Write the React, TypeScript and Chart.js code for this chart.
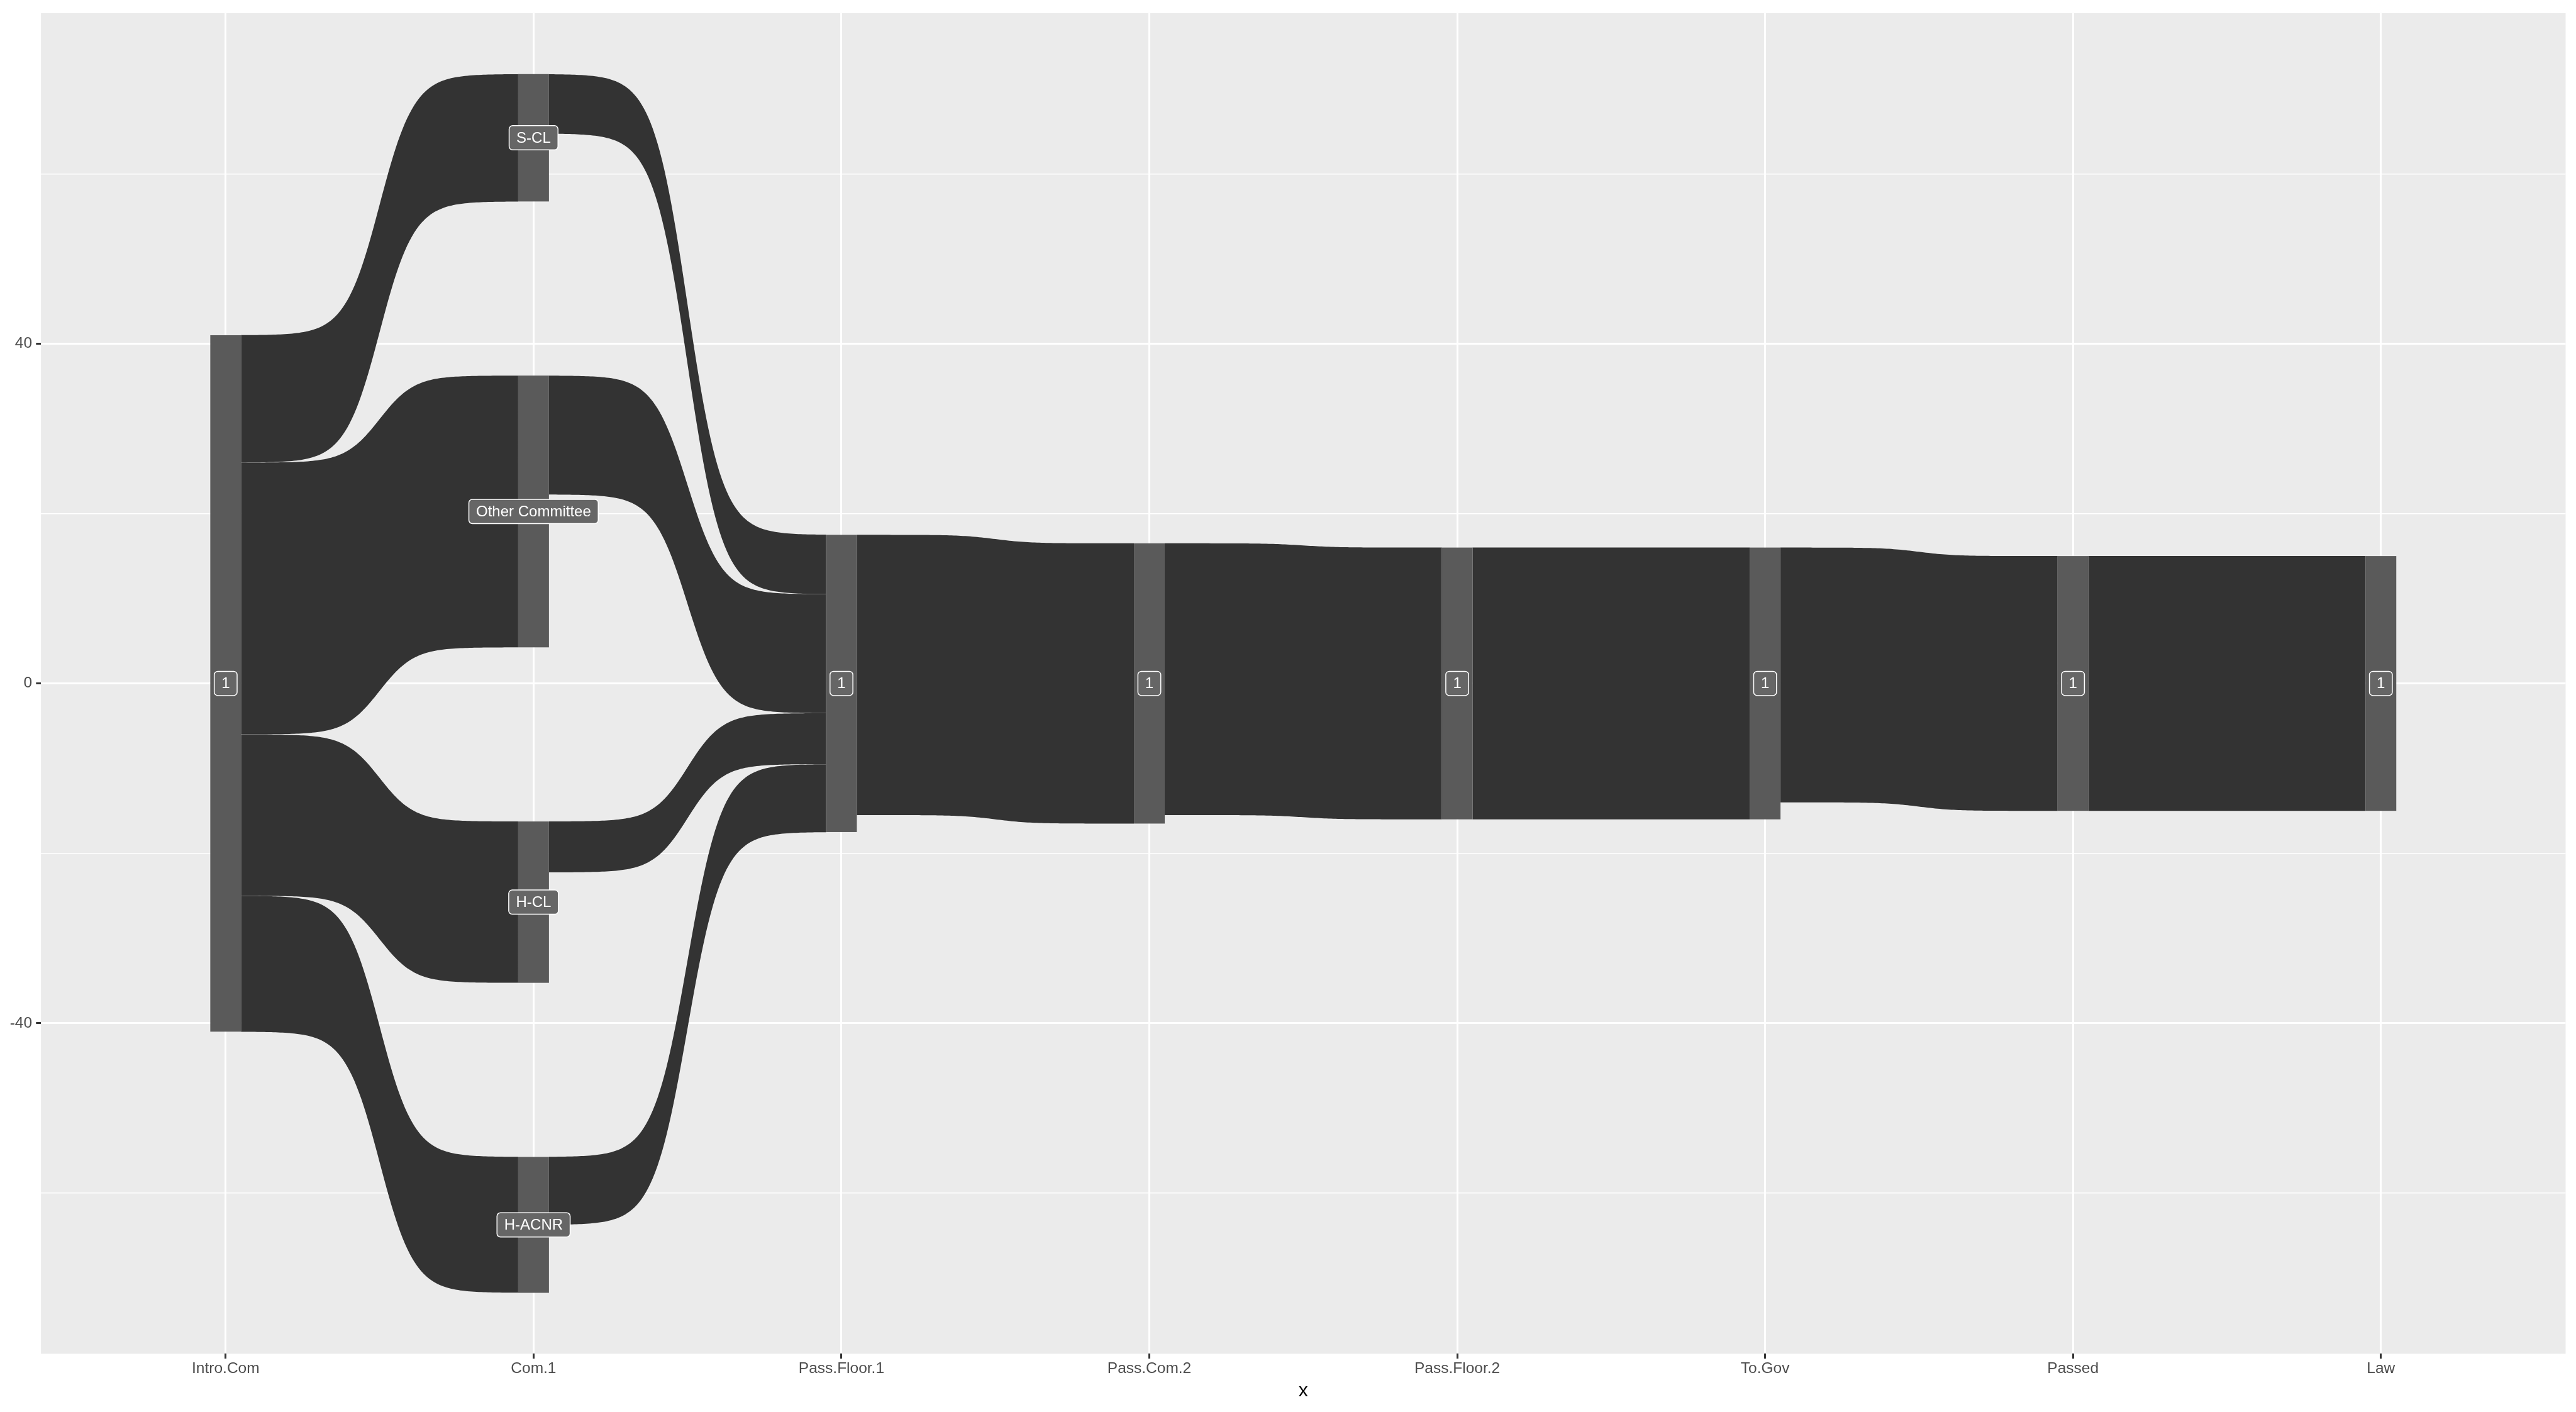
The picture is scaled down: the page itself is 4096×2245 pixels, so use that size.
import React, { useEffect, useRef } from "react";
import { Chart, registerables } from "chart.js";

Chart.register(...registerables);

// ---- data ----
const stages = ["Intro.Com", "Com.1", "Pass.Floor.1", "Pass.Com.2", "Pass.Floor.2", "To.Gov", "Passed", "Law"];
const introLabel = "1";
const introCount = 82;
const committees = ["S-CL", "Other Committee", "H-CL", "H-ACNR"];
const introToCommittee = [15, 32, 19, 16];
const committeeToFloor1 = [7, 14, 6, 8];
const laterLabels = ["1", "1", "1", "1", "1", "1"]; // Pass.Floor.1 .. Law
const laterCounts = [35, 33, 32, 32, 30, 30]; // node sizes Pass.Floor.1 .. Law
const yMajorTicks = [-40, 0, 40];
const yMinorTicks = [-60, -20, 20, 60];

// ---- layout constants ----
const NODE_GAP = 20.5; // vertical space between nodes of one stage (y units)
const NODE_WIDTH = 0.1; // in category units
const SMOOTH = 8;
const FONT = "'Liberation Sans', Arial, Helvetica, sans-serif";

type Node = { label: string; count: number; top: number; bottom: number; outCursor: number; inCursor: number };
type Flow = { from: [number, number]; to: [number, number]; count: number };

function buildNodes(): Node[][] {
  const raw: { label: string; count: number }[][] = [];
  raw.push([{ label: introLabel, count: introCount }]);
  raw.push(committees.map((c, i) => ({ label: c, count: introToCommittee[i] })));
  laterLabels.forEach((l, i) => raw.push([{ label: l, count: laterCounts[i] }]));
  return raw.map((stage) => {
    const total = stage.reduce((a, n) => a + n.count, 0) + NODE_GAP * (stage.length - 1);
    let cursor = total / 2;
    return stage.map((n) => {
      const node: Node = { label: n.label, count: n.count, top: cursor, bottom: cursor - n.count, outCursor: cursor, inCursor: cursor };
      cursor = cursor - n.count - NODE_GAP;
      return node;
    });
  });
}

function buildFlows(): Flow[] {
  const flows: Flow[] = [];
  introToCommittee.forEach((c, i) => flows.push({ from: [0, 0], to: [1, i], count: c }));
  committeeToFloor1.forEach((c, i) => flows.push({ from: [1, i], to: [2, 0], count: c }));
  for (let k = 2; k < stages.length - 1; k++) {
    flows.push({ from: [k, 0], to: [k + 1, 0], count: laterCounts[k - 1] });
  }
  return flows;
}

const nodesBase = buildNodes();
const maxHalf = Math.max(...nodesBase.map((s) => s[0].top));
const yLimit = maxHalf + 0.05 * (2 * maxHalf);

function logistic(t: number) {
  return 1 / (1 + Math.exp(-t));
}

const sankeyPlugin = {
  id: "sankeyDraw",
  beforeDraw(chart: any) {
    const { ctx, chartArea } = chart;
    ctx.save();
    ctx.fillStyle = "#FFFFFF";
    ctx.fillRect(0, 0, chart.width, chart.height);
    ctx.fillStyle = "#EBEBEB";
    ctx.fillRect(chartArea.left, chartArea.top, chartArea.right - chartArea.left, chartArea.bottom - chartArea.top);
    ctx.restore();
  },
  afterDatasetsDraw(chart: any) {
    const { ctx } = chart;
    const xs = chart.scales.x;
    const ys = chart.scales.y;
    const nodes = buildNodes();
    const flows = buildFlows();
    ctx.save();
    // flows
    ctx.fillStyle = "#333333";
    const N = 120;
    flows.forEach((f) => {
      const src = nodes[f.from[0]][f.from[1]];
      const dst = nodes[f.to[0]][f.to[1]];
      const y0t = src.outCursor;
      const y0b = y0t - f.count;
      src.outCursor = y0b;
      const y1t = dst.inCursor;
      const y1b = y1t - f.count;
      dst.inCursor = y1b;
      const x0 = f.from[0] + 1 + NODE_WIDTH / 2;
      const x1 = f.to[0] + 1 - NODE_WIDTH / 2;
      ctx.beginPath();
      for (let i = 0; i <= N; i++) {
        const t = -SMOOTH + (2 * SMOOTH * i) / N;
        const s = logistic(t);
        const x = x0 + ((t + SMOOTH) / (2 * SMOOTH)) * (x1 - x0);
        const y = y0t + s * (y1t - y0t);
        const px = xs.getPixelForValue(x);
        const py = ys.getPixelForValue(y);
        if (i === 0) ctx.moveTo(px, py);
        else ctx.lineTo(px, py);
      }
      for (let i = N; i >= 0; i--) {
        const t = -SMOOTH + (2 * SMOOTH * i) / N;
        const s = logistic(t);
        const x = x0 + ((t + SMOOTH) / (2 * SMOOTH)) * (x1 - x0);
        const y = y0b + s * (y1b - y0b);
        ctx.lineTo(xs.getPixelForValue(x), ys.getPixelForValue(y));
      }
      ctx.closePath();
      ctx.fill();
    });
    // nodes
    ctx.fillStyle = "#5A5A5A";
    nodes.forEach((stage, si) => {
      stage.forEach((n) => {
        const l = xs.getPixelForValue(si + 1 - NODE_WIDTH / 2);
        const r = xs.getPixelForValue(si + 1 + NODE_WIDTH / 2);
        const t = ys.getPixelForValue(n.top);
        const b = ys.getPixelForValue(n.bottom);
        ctx.fillRect(l, t, r - l, b - t);
      });
    });
    // labels
    ctx.font = `24px ${FONT}`;
    ctx.textAlign = "center";
    ctx.textBaseline = "middle";
    nodes.forEach((stage, si) => {
      stage.forEach((n) => {
        const cx = xs.getPixelForValue(si + 1);
        const cy = ys.getPixelForValue((n.top + n.bottom) / 2);
        const tw = ctx.measureText(n.label).width;
        const w = tw + 23;
        const h = 38.5;
        const r = 5.5;
        const x = cx - w / 2;
        const y = cy - h / 2;
        ctx.beginPath();
        ctx.moveTo(x + r, y);
        ctx.lineTo(x + w - r, y);
        ctx.arcTo(x + w, y, x + w, y + r, r);
        ctx.lineTo(x + w, y + h - r);
        ctx.arcTo(x + w, y + h, x + w - r, y + h, r);
        ctx.lineTo(x + r, y + h);
        ctx.arcTo(x, y + h, x, y + h - r, r);
        ctx.lineTo(x, y + r);
        ctx.arcTo(x, y, x + r, y, r);
        ctx.closePath();
        ctx.fillStyle = "#666666";
        ctx.fill();
        ctx.lineWidth = 1.5;
        ctx.strokeStyle = "#FFFFFF";
        ctx.stroke();
        ctx.fillStyle = "#FFFFFF";
        ctx.fillText(n.label, cx, cy + 1.2);
      });
    });
    ctx.restore();
  },
};

export default function App() {
  const ref = useRef<HTMLCanvasElement>(null);
  useEffect(() => {
    const canvas = ref.current;
    if (!canvas) return;
    const allY = [...yMinorTicks, ...yMajorTicks].sort((a, b) => a - b);
    const chart = new Chart(canvas, {
      type: "scatter",
      data: { datasets: [{ data: [] }] },
      options: {
        responsive: false,
        animation: false,
        devicePixelRatio: 1,
        layout: { padding: { left: 0, right: 16.5, top: 15.5, bottom: 0 } },
        plugins: { legend: { display: false }, tooltip: { enabled: false } },
        scales: {
          x: {
            type: "linear",
            min: 0.4,
            max: stages.length + 0.6,
            afterBuildTicks: (scale: any) => {
              scale.ticks = stages.map((_, i) => ({ value: i + 1 }));
            },
            afterFit: (scale: any) => {
              scale.height = 92.6;
            },
            border: { display: false },
            grid: {
              color: "#FFFFFF",
              lineWidth: 3,
              drawTicks: true,
              tickLength: 7.8,
              tickWidth: 3,
              tickColor: "#333333",
            },
            ticks: {
              autoSkip: false,
              maxRotation: 0,
              minRotation: 0,
              padding: 1.7,
              color: "#4D4D4D",
              font: { family: FONT, size: 24.5 },
              callback: (v: any) => stages[Math.round(Number(v)) - 1] ?? "",
            },
            title: {
              display: true,
              text: "x",
              color: "#000000",
              font: { family: FONT, size: 30 },
              padding: { top: 0, bottom: 15.2 },
            },
          },
          y: {
            type: "linear",
            min: -yLimit,
            max: yLimit,
            afterBuildTicks: (scale: any) => {
              scale.ticks = allY.map((v) => ({ value: v }));
            },
            afterFit: (scale: any) => {
              scale.width = 65.1;
            },
            border: { display: false },
            grid: {
              color: "#FFFFFF",
              lineWidth: (c: any) => (yMajorTicks.includes(c.tick?.value) ? 3 : 1.5),
              drawTicks: true,
              tickLength: 7.8,
              tickWidth: 3,
              tickColor: (c: any) => (yMajorTicks.includes(c.tick?.value) ? "#333333" : "rgba(0,0,0,0)"),
            },
            ticks: {
              autoSkip: false,
              padding: 6.2,
              color: "#4D4D4D",
              font: { family: FONT, size: 24.5 },
              callback: (v: any) => (yMajorTicks.includes(Number(v)) ? String(v) : ""),
            },
          },
        },
      },
      plugins: [sankeyPlugin],
    } as any);
    return () => chart.destroy();
  }, []);
  return (
    <div style={{ position: "fixed", left: 0, top: 0, width: 4096, height: 2245, background: "#FFFFFF" }}>
      <canvas ref={ref} width={4096} height={2245} style={{ display: "block", width: 4096, height: 2245 }} />
    </div>
  );
}
